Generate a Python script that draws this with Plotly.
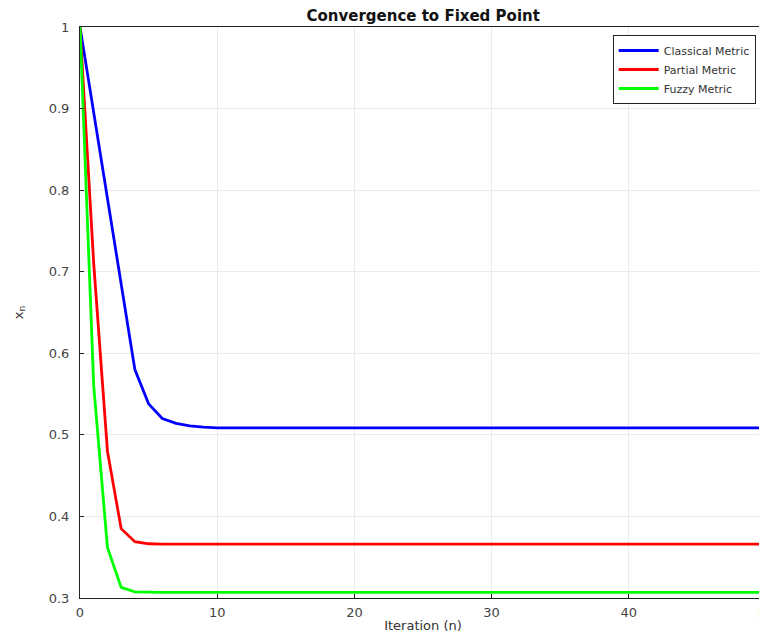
import plotly.graph_objects as go

iterations = list(range(0, 51))
classical_head = [1.0, 0.895, 0.79, 0.685, 0.58, 0.538, 0.52, 0.514, 0.511, 0.5095]
partial_head = [1.0, 0.71, 0.48, 0.385, 0.369, 0.3665]
fuzzy_head = [1.0, 0.56, 0.362, 0.313, 0.3075, 0.307]
classical_tail = 0.5085
partial_tail = 0.366
fuzzy_tail = 0.307

def extend(head, tail, n):
    return head + [tail] * (n - len(head))

N = len(iterations)
classical = extend(classical_head, classical_tail, N)
partial = extend(partial_head, partial_tail, N)
fuzzy = extend(fuzzy_head, fuzzy_tail, N)

series_names = ["Classical Metric", "Partial Metric", "Fuzzy Metric"]
series_values = [classical, partial, fuzzy]
series_colors = ["#0000ff", "#ff0000", "#00ff00"]

x_ticks = [0, 10, 20, 30, 40, 50]
y_ticks = [0.3, 0.4, 0.5, 0.6, 0.7, 0.8, 0.9, 1.0]
y_tick_labels = ["0.3", "0.4", "0.5", "0.6", "0.7", "0.8", "0.9", "1"]

FONT = "DejaVu Sans"

fig = go.Figure()
for name, vals, col in zip(series_names, series_values, series_colors):
    fig.add_trace(go.Scatter(x=iterations, y=vals, mode="lines", name=name,
                             line=dict(color=col, width=2.8)))

fig.update_layout(
    width=759, height=625,
    margin=dict(l=72, r=1, t=19, b=35, autoexpand=False),
    plot_bgcolor="white", paper_bgcolor="white",
    font=dict(family=FONT, size=12, color="#333333"),
    title=dict(text="<b>Convergence to Fixed Point</b>", x=0.547, xanchor="center",
               y=0.988, yanchor="middle", font=dict(family=FONT, size=15, color="#111111")),
    showlegend=True,
    legend=dict(x=0.985, y=0.986, xanchor="right", yanchor="top",
                bgcolor="white", bordercolor="#222222", borderwidth=1,
                font=dict(family=FONT, size=11, color="#333333"),
                tracegroupgap=0, itemwidth=40),
)
fig.update_xaxes(range=[0, 50], tickvals=x_ticks, ticktext=[str(t) for t in x_ticks],
                 showgrid=True, gridcolor="#ebebeb", gridwidth=1,
                 showline=True, linecolor="#222222", linewidth=1, mirror=True,
                 ticks="inside", ticklen=4, tickcolor="#222222", zeroline=False,
                 ticklabeloverflow="allow", automargin=False, ticklabelstandoff=2,
                 title=dict(text="Iteration (n)", standoff=7, font=dict(size=13)),
                 tickfont=dict(size=13, color="#444444"))
fig.update_yaxes(range=[0.3, 1.0], tickvals=y_ticks, ticktext=y_tick_labels,
                 showgrid=True, gridcolor="#ebebeb", gridwidth=1,
                 showline=True, linecolor="#222222", linewidth=1, mirror=True,
                 ticks="inside", ticklen=4, tickcolor="#222222", zeroline=False,
                 automargin=False, ticklabelstandoff=7,
                 title=dict(text="x<sub>n</sub>", standoff=22, font=dict(size=13)),
                 tickfont=dict(size=13, color="#444444"))

fig.write_html("out.html")
